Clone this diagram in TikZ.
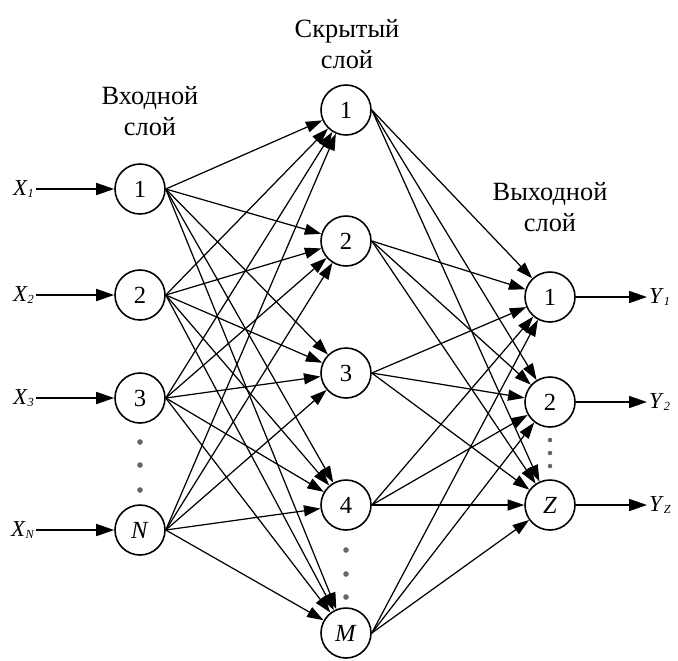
\documentclass[tikz,border=0pt]{standalone}
\usepackage{fontspec}
\setmainfont{Liberation Serif}
\usetikzlibrary{arrows.meta}

\tikzset{
  neuron/.style={draw,circle,line width=0.9pt,minimum size=1cm,inner sep=0pt,
    font=\fontsize{14}{16}\selectfont},
  link/.style={line width=0.7pt,-{Triangle[length=3.3mm,width=2.2mm]}},
  iolink/.style={line width=0.9pt,-{Triangle[length=3.6mm,width=2.4mm]}},
  layertitle/.style={align=center,font=\fontsize{15}{18}\selectfont},
  iolabel/.style={inner sep=1pt,font=\fontsize{13}{15}\selectfont},
  vdot/.style={circle,fill=black!60,inner sep=0pt,minimum size=3.2pt}
}
\newcommand{\sig}[2]{\textit{#1}{\fontsize{7}{8}\selectfont\raisebox{-0.4ex}{\itshape #2}}}

\begin{document}
\begin{tikzpicture}[x=0.02cm,y=-0.02cm]
\useasboundingbox (0,0) rectangle (678,660);
% входной слой
\foreach \i/\y/\t in {1/189/1,2/295/2,3/398/3,4/530/N} {
  \node[neuron] (in\i) at (140,\y) {\ifnum\i=4 \textit{\t}\else\t\fi};
  \node[iolabel,anchor=east] (x\i) at (36,\y) {\sig{X}{\t}};
  \draw[iolink] (x\i) -- (in\i);
}
\foreach \k/\y in {1/442,2/465,3/490}
  \node[vdot] (din\k) at (140,\y) {};
\node[layertitle] (tin) at (150,111) {Входной\\слой};
% скрытый слой
\foreach \i/\y/\t in {1/110/1,2/241/2,3/373/3,4/505/4,5/633/M}
  \node[neuron] (h\i) at (346,\y) {\ifnum\i=5 \textit{\t}\else\t\fi};
\foreach \k/\y in {1/550,2/574,3/597}
  \node[vdot] (dh\k) at (346,\y) {};
\node[layertitle] (th) at (347,44) {Скрытый\\слой};
% выходной слой
\foreach \i/\y/\t in {1/297/1,2/402/2,3/505/Z} {
  \node[neuron] (o\i) at (550,\y) {\ifnum\i=3 \textit{\t}\else\t\fi};
  \node[iolabel,anchor=west] (y\i) at (647,\y) {\sig{Y}{\t}};
  \draw[iolink] (o\i) -- (y\i);
}
\foreach \k/\y in {1/440,2/453,3/466}
  \node[vdot,minimum size=2.6pt] (dout\k) at (550,\y) {};
\node[layertitle] (tout) at (550,207) {Выходной\\слой};
% связи
\foreach \i in {1,...,4}
  \foreach \j in {1,...,5}
    \draw[link] (in\i.east) -- (h\j);
\foreach \j in {1,...,5}
  \foreach \k in {1,...,3}
    \draw[link] (h\j.east) -- (o\k);
\end{tikzpicture}
\end{document}
